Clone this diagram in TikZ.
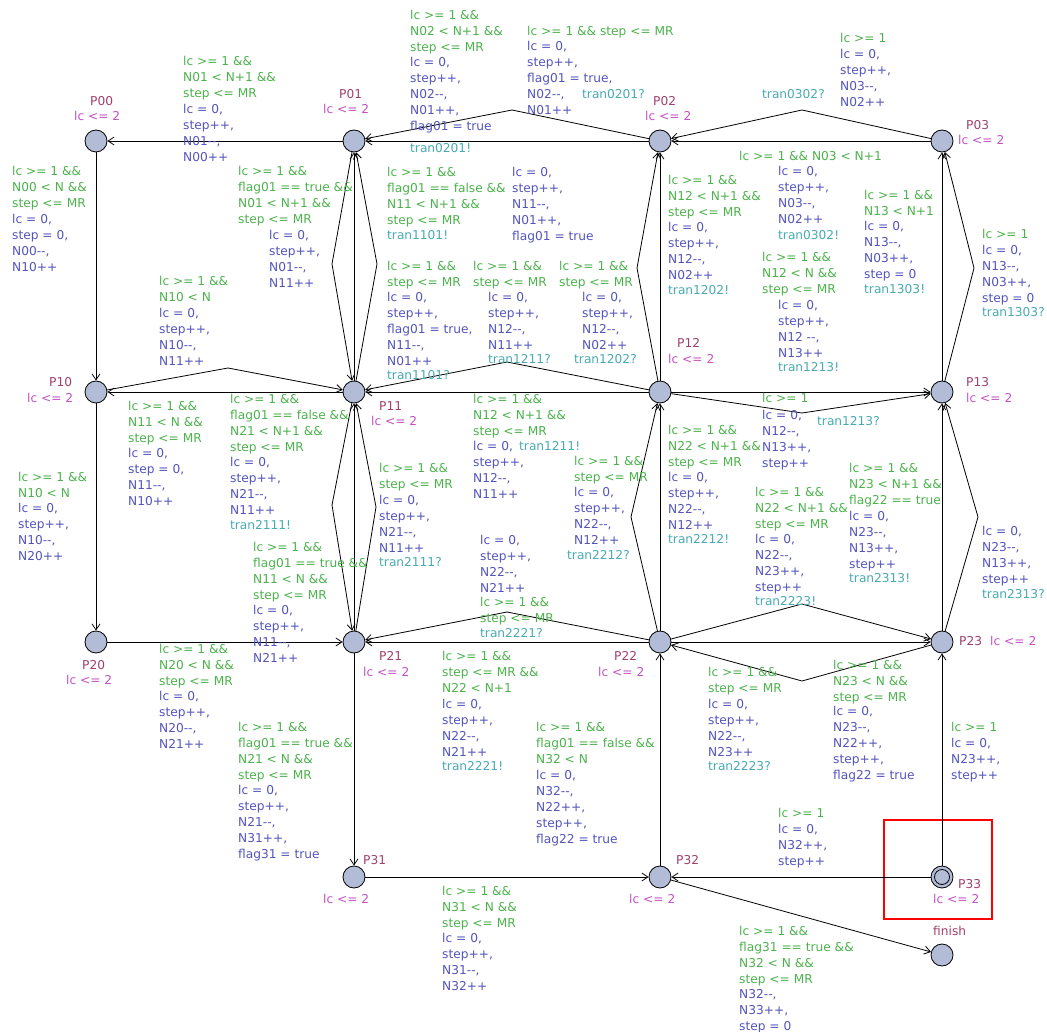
\documentclass[tikz,border=0pt]{standalone}
\usepackage{fontspec}
\usetikzlibrary{arrows.meta}
\newfontfamily\ufam{DejaVu Sans}
\newcommand\lblfont{\ufam\fontsize{12.2}{15.8}\selectfont}
\newcommand\lstrut{\rule[-4.7pt]{0pt}{11.06pt}}
\definecolor{cgrd}{RGB}{76,178,76}
\definecolor{cupd}{RGB}{84,84,190}
\definecolor{csyn}{RGB}{72,170,178}
\definecolor{cnme}{RGB}{160,64,110}
\definecolor{cinv}{RGB}{196,82,196}
\definecolor{cloc}{RGB}{178,188,214}
\tikzset{
  loc/.style={circle, draw, fill=cloc, minimum size=22pt, inner sep=0pt, line width=0.8pt},
  edge/.style={-{Straight Barb[length=6pt,width=8pt]}, line width=0.8pt},
  lbl/.style={anchor=north west, inner sep=0pt, align=left, font=\lblfont,
              execute at begin node=\lstrut, yshift=6.6pt},
  grd/.style={lbl, text=cgrd},
  upd/.style={lbl, text=cupd},
  syn/.style={lbl, text=csyn},
  lname/.style={lbl, text=cnme},
  linv/.style={lbl, text=cinv}
}
\begin{document}
\begin{tikzpicture}[x=1pt, y=-1pt]
\useasboundingbox (0,0) rectangle (1047,1032);
\fill[white] (0,0) rectangle (1047,1032);

% locations
\node[loc] (P00) at (96,141) {};
\node[loc] (P01) at (354,141) {};
\node[loc] (P02) at (660,141) {};
\node[loc] (P03) at (942,141) {};
\node[loc] (P10) at (96,392) {};
\node[loc] (P11) at (354,392) {};
\node[loc] (P12) at (660,392) {};
\node[loc] (P13) at (942,392) {};
\node[loc] (P20) at (96,642) {};
\node[loc] (P21) at (354,642) {};
\node[loc] (P22) at (660,642) {};
\node[loc] (P23) at (942,642) {};
\node[loc] (P31) at (354,877) {};
\node[loc] (P32) at (660,877) {};
\node[loc] (P33) at (942,877) {};
\node[circle, draw, minimum size=15pt, inner sep=0pt, line width=0.8pt] (P33i) at (P33) {};
\node[loc] (fin) at (942,955) {};

% committed start marker
\draw[red, line width=1.5pt] (884,820) rectangle (992,919);

% location names and invariants
\node[lname] (nP00) at (90,103) {P00};   \node[linv] (iP00) at (74,118) {lc <= 2};
\node[lname] (nP01) at (339,96) {P01};   \node[linv] (iP01) at (323,111) {lc <= 2};
\node[lname] (nP02) at (653,103) {P02};  \node[linv] (iP02) at (645,118) {lc <= 2};
\node[lname] (nP03) at (966,127) {P03};  \node[linv] (iP03) at (958,142) {lc <= 2};
\node[lname] (nP10) at (49,384) {P10};   \node[linv] (iP10) at (27,400) {lc <= 2};
\node[lname] (nP11) at (379,408) {P11};  \node[linv] (iP11) at (371,423) {lc <= 2};
\node[lname] (nP12) at (677,345) {P12};  \node[linv] (iP12) at (668,361) {lc <= 2};
\node[lname] (nP13) at (966,384) {P13};  \node[linv] (iP13) at (966,400) {lc <= 2};
\node[lname] (nP20) at (82,667) {P20};   \node[linv] (iP20) at (66,682) {lc <= 2};
\node[lname] (nP21) at (379,658) {P21};  \node[linv] (iP21) at (363,674) {lc <= 2};
\node[lname] (nP22) at (614,658) {P22};  \node[linv] (iP22) at (598,674) {lc <= 2};
\node[lname] (nP23) at (959,643) {P23};  \node[linv] (iP23) at (990,643) {lc <= 2};
\node[lname] (nP31) at (363,862) {P31};  \node[linv] (iP31) at (323,901) {lc <= 2};
\node[lname] (nP32) at (676,862) {P32};  \node[linv] (iP32) at (629,901) {lc <= 2};
\node[lname] (nP33) at (958,886) {P33};  \node[linv] (iP33) at (933,901) {lc <= 2};
\node[lname] (nfin) at (933,933) {finish};

% nails of the bent transitions
\coordinate (n0201) at (512,110);
\coordinate (n0302) at (802,110);
\coordinate (n1011) at (228,368);
\coordinate (n0111) at (332,264);
\coordinate (n1101) at (377,264);
\coordinate (n1121) at (332,505);
\coordinate (n2111) at (376,507);
\coordinate (n1211) at (507,362);
\coordinate (n1202) at (637,268);
\coordinate (n1213) at (802,413);
\coordinate (n1303) at (974,268);
\coordinate (n2221) at (507,612);
\coordinate (n2212) at (631,517);
\coordinate (n2223) at (802,604);
\coordinate (n2322) at (802,681);
\coordinate (n2313) at (978,517);

% transitions
\draw[edge] (P01) -- (P00);
\draw[edge] (P02) -- (P01);
\draw[edge] (P02) -- (n0201) -- (P01);
\draw[edge] (P03) -- (P02);
\draw[edge] (P03) -- (n0302) -- (P02);
\draw[edge] (P00) -- (P10);
\draw[edge] (P10) -- (P20);
\draw[edge] (P11) -- (P10);
\draw[edge] (P10) -- (n1011) -- (P11);
\draw[edge] (P01) -- (n0111) -- (P11);
\draw[edge] (P11) -- (P01);
\draw[edge] (P11) -- (n1101) -- (P01);
\draw[edge] (P11) -- (n1121) -- (P21);
\draw[edge] (P21) -- (P11);
\draw[edge] (P21) -- (n2111) -- (P11);
\draw[edge] (P12) -- (P11);
\draw[edge] (P12) -- (n1211) -- (P11);
\draw[edge] (P12) -- (P02);
\draw[edge] (P12) -- (n1202) -- (P02);
\draw[edge] (P12) -- (P13);
\draw[edge] (P12) -- (n1213) -- (P13);
\draw[edge] (P13) -- (P03);
\draw[edge] (P13) -- (n1303) -- (P03);
\draw[edge] (P20) -- (P21);
\draw[edge] (P22) -- (P21);
\draw[edge] (P22) -- (n2221) -- (P21);
\draw[edge] (P22) -- (P12);
\draw[edge] (P22) -- (n2212) -- (P12);
\draw[edge] (P22) -- (P23);
\draw[edge] (P22) -- (n2223) -- (P23);
\draw[edge] (P23) -- (n2322) -- (P22);
\draw[edge] (P23) -- (P13);
\draw[edge] (P23) -- (n2313) -- (P13);
\draw[edge] (P21) -- (P31);
\draw[edge] (P31) -- (P32);
\draw[edge] (P32) -- (P22);
\draw[edge] (P33) -- (P32);
\draw[edge] (P33) -- (P23);
\draw[edge] (P32) -- (fin);

% P01 -> P00
\node[grd] (g0100) at (183,63) {lc >= 1 \&\&\\N01 < N+1 \&\&\\step <= MR};
\node[upd] (u0100) at (183,111) {lc = 0,\\step++,\\N01-{}-,\\N00++};
% P02 -> P01
\node[grd] (g0201) at (410,17) {lc >= 1 \&\&\\N02 < N+1 \&\&\\step <= MR};
\node[upd] (u0201) at (410,64) {lc = 0,\\step++,\\N02-{}-,\\N01++,\\flag01 = true};
\node[syn] (s0201) at (410,150) {tran0201!};
\node[grd] (g0201b) at (527,33) {lc >= 1 \&\& step <= MR};
\node[upd] (u0201b) at (527,48) {lc = 0,\\step++,\\flag01 = true,\\N02-{}-,\\N01++};
\node[syn] (s0201b) at (582,96) {tran0201?};
% P03 -> P02
\node[grd] (g0302b) at (840,40) {lc >= 1};
\node[upd] (u0302b) at (840,56) {lc = 0,\\step++,\\N03-{}-,\\N02++};
\node[syn] (s0302b) at (762,96) {tran0302?};
\node[grd] (g0302) at (739,158) {lc >= 1 \&\& N03 < N+1};
\node[upd] (u0302) at (778,173) {lc = 0,\\step++,\\N03-{}-,\\N02++};
\node[syn] (s0302) at (778,237) {tran0302!};
% P00 -> P10
\node[grd] (g0010) at (12,173) {lc >= 1 \&\&\\N00 < N \&\&\\step <= MR};
\node[upd] (u0010) at (12,221) {lc = 0,\\step = 0,\\N00-{}-,\\N10++};
% P01 -> P11
\node[grd] (g0111) at (238,173) {lc >= 1 \&\&\\flag01 == true \&\&\\N01 < N+1 \&\&\\step <= MR};
\node[upd] (u0111) at (269,237) {lc = 0,\\step++,\\N01-{}-,\\N11++};
% P11 -> P01
\node[grd] (g1101) at (387,174) {lc >= 1 \&\&\\flag01 == false \&\&\\N11 < N+1 \&\&\\step <= MR};
\node[syn] (s1101) at (387,237) {tran1101!};
\node[upd] (u1101) at (512,174) {lc = 0,\\step++,\\N11-{}-,\\N01++,\\flag01 = true};
\node[grd] (g1101b) at (387,268) {lc >= 1 \&\&\\step <= MR};
\node[upd] (u1101b) at (387,299) {lc = 0,\\step++,\\flag01 = true,\\N11-{}-,\\N01++};
\node[syn] (s1101b) at (387,377) {tran1101?};
% P12 -> P11
\node[grd] (g1211b) at (473,268) {lc >= 1 \&\&\\step <= MR};
\node[upd] (u1211b) at (488,299) {lc = 0,\\step++,\\N12-{}-,\\N11++};
\node[syn] (s1211b) at (488,361) {tran1211?};
\node[grd] (g1211) at (473,401) {lc >= 1 \&\&\\N12 < N+1 \&\&\\step <= MR};
\node[upd] (u1211) at (473,448) {lc = 0,\\step++,\\N12-{}-,\\N11++};
\node[syn] (s1211) at (519,448) {tran1211!};
% P12 -> P02
\node[grd] (g1202b) at (559,268) {lc >= 1 \&\&\\step <= MR};
\node[upd] (u1202b) at (582,299) {lc = 0,\\step++,\\N12-{}-,\\N02++};
\node[syn] (s1202b) at (574,361) {tran1202?};
\node[grd] (g1202) at (668,182) {lc >= 1 \&\&\\N12 < N+1 \&\&\\step <= MR};
\node[upd] (u1202) at (668,229) {lc = 0,\\step++,\\N12-{}-,\\N02++};
\node[syn] (s1202) at (668,292) {tran1202!};
% P13 -> P03
\node[grd] (g1303) at (864,197) {lc >= 1 \&\&\\N13 < N+1};
\node[upd] (u1303) at (864,228) {lc = 0,\\N13-{}-,\\N03++,\\step = 0};
\node[syn] (s1303) at (864,291) {tran1303!};
\node[grd] (g1303b) at (982,236) {lc >= 1};
\node[upd] (u1303b) at (982,252) {lc = 0,\\N13-{}-,\\N03++,\\step = 0};
\node[syn] (s1303b) at (982,314) {tran1303?};
% P12 -> P13
\node[grd] (g1213) at (762,259) {lc >= 1 \&\&\\N12 < N \&\&\\step <= MR};
\node[upd] (u1213) at (778,307) {lc = 0,\\step++,\\N12 -{}-,\\N13++};
\node[syn] (s1213) at (778,369) {tran1213!};
\node[grd] (g1213b) at (762,400) {lc >= 1};
\node[upd] (u1213b) at (762,417) {lc = 0,\\N12-{}-,\\N13++,\\step++};
\node[syn] (s1213b) at (817,423) {tran1213?};
% P10 -> P11 and P11 -> P10
\node[grd] (g1011) at (159,283) {lc >= 1 \&\&\\N10 < N};
\node[upd] (u1011) at (159,315) {lc = 0,\\step++,\\N10-{}-,\\N11++};
\node[grd] (g1110) at (128,408) {lc >= 1 \&\&\\N11 < N \&\&\\step <= MR};
\node[upd] (u1110) at (128,455) {lc = 0,\\step = 0,\\N11-{}-,\\N10++};
% P21 -> P11
\node[grd] (g2111) at (230,401) {lc >= 1 \&\&\\flag01 == false \&\&\\N21 < N+1 \&\&\\step <= MR};
\node[upd] (u2111) at (230,464) {lc = 0,\\step++,\\N21-{}-,\\N11++};
\node[syn] (s2111) at (230,527) {tran2111!};
\node[grd] (g2111b) at (379,470) {lc >= 1 \&\&\\step <= MR};
\node[upd] (u2111b) at (379,502) {lc = 0,\\step++,\\N21-{}-,\\N11++};
\node[syn] (s2111b) at (379,564) {tran2111?};
% P10 -> P20
\node[grd] (g1020) at (18,479) {lc >= 1 \&\&\\N10 < N};
\node[upd] (u1020) at (18,510) {lc = 0,\\step++,\\N10-{}-,\\N20++};
% P11 -> P21
\node[grd] (g1121) at (253,549) {lc >= 1 \&\&\\flag01 == true \&\&\\N11 < N \&\&\\step <= MR};
\node[upd] (u1121) at (253,612) {lc = 0,\\step++,\\N11-{}-,\\N21++};
% P20 -> P21
\node[grd] (g2021) at (159,651) {lc >= 1 \&\&\\N20 < N \&\&\\step <= MR};
\node[upd] (u2021) at (159,698) {lc = 0,\\step++,\\N20-{}-,\\N21++};
% P22 -> P12
\node[grd] (g2212b) at (574,463) {lc >= 1 \&\&\\step <= MR};
\node[upd] (u2212b) at (574,494) {lc = 0,\\step++,\\N22-{}-,\\N12++};
\node[syn] (s2212b) at (567,557) {tran2212?};
\node[grd] (g2212) at (668,432) {lc >= 1 \&\&\\N22 < N+1 \&\&\\step <= MR};
\node[upd] (u2212) at (668,479) {lc = 0,\\step++,\\N22-{}-,\\N12++};
\node[syn] (s2212) at (668,541) {tran2212!};
% P22 -> P21
\node[upd] (u2221b) at (480,542) {lc = 0,\\step++,\\N22-{}-,\\N21++};
\node[grd] (g2221b) at (480,604) {lc >= 1 \&\&\\step <= MR};
\node[syn] (s2221b) at (480,635) {tran2221?};
\node[grd] (g2221) at (442,658) {lc >= 1 \&\&\\step <= MR \&\&\\N22 < N+1};
\node[upd] (u2221) at (442,706) {lc = 0,\\step++,\\N22-{}-,\\N21++};
\node[syn] (s2221) at (442,768) {tran2221!};
% P22 -> P23 and P23 -> P22
\node[grd] (g2223) at (755,494) {lc >= 1 \&\&\\N22 < N+1 \&\&\\step <= MR};
\node[upd] (u2223) at (755,541) {lc = 0,\\N22-{}-,\\N23++,\\step++};
\node[syn] (s2223) at (755,603) {tran2223!};
\node[grd] (g2223b) at (708,674) {lc >= 1 \&\&\\step <= MR};
\node[upd] (u2223b) at (708,706) {lc = 0,\\step++,\\N22-{}-,\\N23++};
\node[syn] (s2223b) at (708,768) {tran2223?};
\node[grd] (g2322) at (833,667) {lc >= 1 \&\&\\N23 < N \&\&\\step <= MR};
\node[upd] (u2322) at (833,713) {lc = 0,\\N23-{}-,\\N22++,\\step++,\\flag22 = true};
% P23 -> P13
\node[grd] (g2313) at (849,470) {lc >= 1 \&\&\\N23 < N+1 \&\&\\flag22 == true};
\node[upd] (u2313) at (849,518) {lc = 0,\\N23-{}-,\\N13++,\\step++};
\node[syn] (s2313) at (849,580) {tran2313!};
\node[upd] (u2313b) at (982,533) {lc = 0,\\N23-{}-,\\N13++,\\step++};
\node[syn] (s2313b) at (982,596) {tran2313?};
% P21 -> P31
\node[grd] (g2131) at (238,729) {lc >= 1 \&\&\\flag01 == true \&\&\\N21 < N \&\&\\step <= MR};
\node[upd] (u2131) at (238,792) {lc = 0,\\step++,\\N21-{}-,\\N31++,\\flag31 = true};
% P32 -> P22
\node[grd] (g3222) at (536,729) {lc >= 1 \&\&\\flag01 == false \&\&\\N32 < N};
\node[upd] (u3222) at (536,777) {lc = 0,\\N32-{}-,\\N22++,\\step++,\\flag22 = true};
% P31 -> P32
\node[grd] (g3132) at (442,893) {lc >= 1 \&\&\\N31 < N \&\&\\step <= MR};
\node[upd] (u3132) at (442,940) {lc = 0,\\step++,\\N31-{}-,\\N32++};
% P33 -> P23
\node[grd] (g3323) at (951,729) {lc >= 1};
\node[upd] (u3323) at (951,745) {lc = 0,\\N23++,\\step++};
% P33 -> P32
\node[grd] (g3332) at (778,815) {lc >= 1};
\node[upd] (u3332) at (778,831) {lc = 0,\\N32++,\\step++};
% P32 -> finish
\node[grd] (g32f) at (739,933) {lc >= 1 \&\&\\flag31 == true \&\&\\N32 < N \&\&\\step <= MR};
\node[upd] (u32f) at (739,996) {N32-{}-,\\N33++,\\step = 0};
\end{tikzpicture}
\end{document}
